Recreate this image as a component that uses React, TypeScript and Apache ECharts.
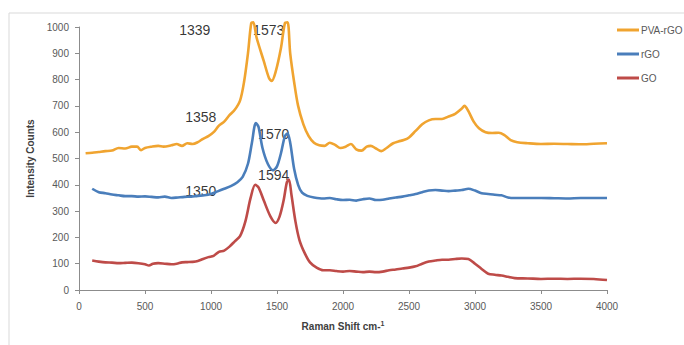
import React, { useEffect, useRef } from "react";
import * as echarts from "echarts";

const seriesNames = ["PVA-rGO", "rGO", "GO"];
const seriesColors = ["#F0A430", "#4A7EBB", "#BE4B48"];

const pvaRgo: [number, number][] = [
  [50,520],[100,522],[150,525],[200,528],[250,530],[300,540],[350,538],[400,545],[440,545],[470,532],[500,540],[550,545],[600,548],[640,545],[700,550],[740,555],[780,548],[820,558],[860,555],[900,562],[940,575],[980,585],[1020,600],[1060,625],[1100,640],[1140,665],[1180,685],[1220,720],[1250,790],[1280,900],[1305,1015],[1320,1018],[1345,960],[1400,870],[1440,805],[1460,795],[1490,830],[1530,920],[1560,1015],[1580,1018],[1600,900],[1630,790],[1660,700],[1700,630],[1740,585],[1780,560],[1820,550],[1860,548],[1900,560],[1940,552],[1980,540],[2020,545],[2060,555],[2100,535],[2140,530],[2180,545],[2210,548],[2250,538],[2290,528],[2330,540],[2380,558],[2420,565],[2460,570],[2500,580],[2550,605],[2600,630],[2650,645],[2700,650],[2750,650],[2800,660],[2850,670],[2900,690],[2920,700],[2950,680],[2990,640],[3030,615],[3080,600],[3130,597],[3180,598],[3220,590],[3270,570],[3320,562],[3400,558],[3500,555],[3600,556],[3700,555],[3800,554],[3900,556],[4000,558]
];

const rgo: [number, number][] = [
  [100,385],[150,372],[200,368],[250,363],[300,360],[350,357],[400,357],[450,355],[500,356],[550,354],[600,352],[650,355],[700,350],[750,352],[800,354],[850,355],[900,358],[950,360],[1000,365],[1050,375],[1100,385],[1150,395],[1200,410],[1240,430],[1280,480],[1310,560],[1340,635],[1360,620],[1390,540],[1430,480],[1470,455],[1500,470],[1530,520],[1560,585],[1580,595],[1600,560],[1630,460],[1660,400],[1690,370],[1730,358],[1780,352],[1850,348],[1900,350],[1950,345],[2000,342],[2050,343],[2100,340],[2150,345],[2200,348],[2250,342],[2300,343],[2350,348],[2400,352],[2450,355],[2500,360],[2550,365],[2600,372],[2650,378],[2700,380],[2750,378],[2800,376],[2850,378],[2900,380],[2950,385],[3000,378],[3050,368],[3100,365],[3150,362],[3200,360],[3250,352],[3300,350],[3400,350],[3500,350],[3600,349],[3700,348],[3800,350],[3900,350],[4000,350]
];

const go: [number, number][] = [
  [100,112],[150,108],[200,105],[250,104],[300,102],[350,103],[400,104],[450,102],[500,98],[530,93],[560,100],[600,102],[650,100],[700,98],[740,100],[780,105],[820,106],[860,107],[900,110],[940,118],[980,125],[1020,130],[1060,145],[1100,150],[1140,165],[1180,185],[1220,205],[1260,260],[1300,350],[1335,400],[1360,390],[1400,340],[1450,280],[1490,255],[1520,280],[1550,340],[1575,410],[1590,420],[1610,360],[1640,260],[1670,190],[1710,140],[1750,105],[1800,85],[1850,75],[1900,75],[1950,72],[2000,70],[2050,72],[2100,70],[2150,68],[2200,70],[2250,68],[2300,70],[2350,75],[2400,78],[2450,82],[2500,85],[2550,90],[2600,100],[2650,108],[2700,112],[2750,115],[2800,115],[2850,118],[2900,120],[2950,118],[3000,100],[3050,80],[3100,62],[3150,58],[3200,55],[3250,50],[3300,45],[3400,44],[3500,42],[3600,43],[3700,42],[3800,43],[3900,42],[4000,38]
];

// peak annotations: [x, y, text]
const annotations: [number, number, string][] = [
  [877, 989, "1339"],
  [1437, 989, "1573"],
  [922, 656, "1358"],
  [1475, 592, "1570"],
  [1475, 439, "1594"],
  [922, 378, "1350"],
];

export default function App() {
  const ref = useRef<HTMLDivElement>(null);
  useEffect(() => {
    document.body.style.margin = "0";
    if (!ref.current) return;
    const chart = echarts.init(ref.current, null, { renderer: "svg" });
    const font = "Liberation Sans";
    const datasets = [pvaRgo, rgo, go];
    const series: any[] = datasets.map((d, i) => ({
      name: seriesNames[i],
      type: "line",
      data: d,
      showSymbol: false,
      symbol: "none",
      smooth: 0.3,
      clip: false,
      lineStyle: { width: 2.6, color: seriesColors[i] },
      itemStyle: { color: seriesColors[i] },
    }));
    series.push({
      type: "scatter",
      name: "annotations",
      data: annotations.map((a) => ({ value: [a[0], a[1]], label: { formatter: a[2] } })),
      symbolSize: 0,
      silent: true,
      label: {
        show: true,
        position: "inside",
        color: "#000",
        fontSize: 14,
        fontFamily: font,
      },
    });
    chart.setOption({
      animation: false,
      backgroundColor: "#fff",
      grid: { left: 79, right: 77, top: 27, bottom: 55 },
      graphic: [
        {
          type: "rect",
          shape: { x: 9, y: 13, width: 720, height: 400 },
          style: { fill: "none", stroke: "#d9d9d9", lineWidth: 1 },
          z: -1,
        },
      ],
      legend: {
        orient: "vertical",
        left: 612,
        top: 20,
        itemWidth: 22,
        itemHeight: 3,
        itemGap: 14,
        icon: "rect",
        data: seriesNames,
        textStyle: { fontSize: 10, color: "#595959", fontFamily: font, padding: [0, 0, 0, -3] },
      },
      xAxis: {
        type: "value",
        min: 0,
        max: 4000,
        interval: 500,
        name: "{a|Raman Shift cm-}{s|1}",
        nameLocation: "middle",
        nameGap: 30,
        nameTextStyle: {
          rich: {
            a: { fontSize: 10, fontWeight: "bold", color: "#404040", fontFamily: font },
            s: { fontSize: 7, fontWeight: "bold", color: "#404040", fontFamily: font, verticalAlign: "top", padding: [0, 0, 6, 0] },
          },
        },
        axisLine: { lineStyle: { color: "#8c8c8c" } },
        axisTick: { show: true, length: 4, lineStyle: { color: "#8c8c8c" } },
        axisLabel: { fontSize: 10, color: "#595959", fontFamily: font, margin: 11, formatter: (v: number) => String(v) },
        splitLine: { show: false },
      },
      yAxis: {
        type: "value",
        min: 0,
        max: 1000,
        interval: 100,
        name: "Intensity Counts",
        nameLocation: "middle",
        nameGap: 42,
        nameTextStyle: { fontSize: 10, fontWeight: "bold", color: "#404040", fontFamily: font },
        axisLine: { show: true, lineStyle: { color: "#8c8c8c" } },
        axisTick: { show: true, length: 4, lineStyle: { color: "#8c8c8c" } },
        axisLabel: { fontSize: 10, color: "#595959", fontFamily: font, margin: 10, formatter: (v: number) => String(v) },
        splitLine: { show: false },
      },
      series,
    });
    return () => chart.dispose();
  }, []);
  return <div ref={ref} style={{ width: 684, height: 345 }} />;
}
